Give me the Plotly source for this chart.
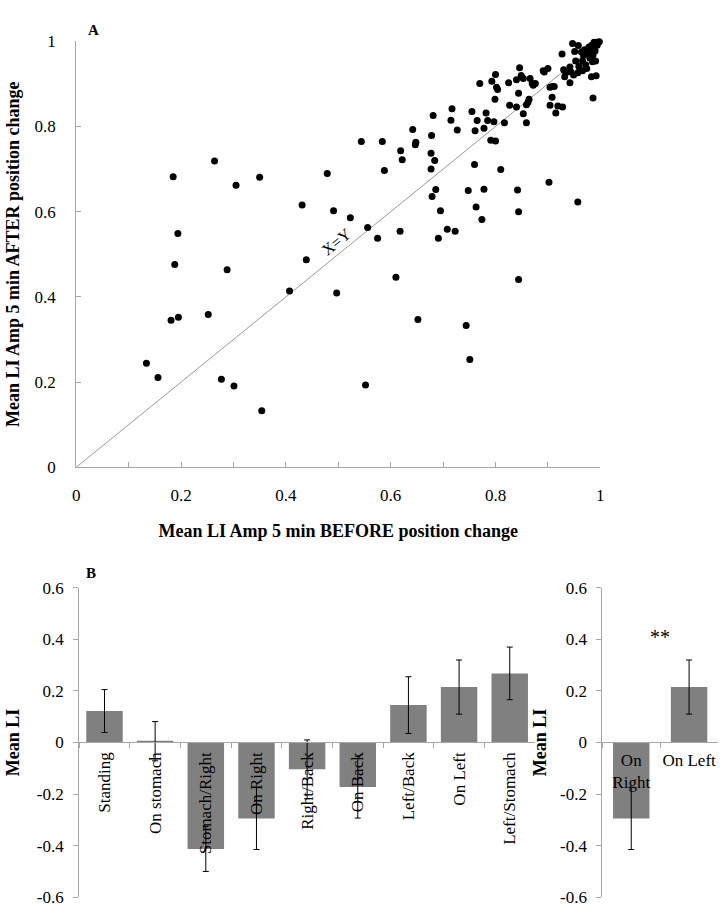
import plotly.graph_objects as go

# ---------------- Panel A data ----------------
before = [
    0.134, 0.156, 0.181, 0.195, 0.252, 0.277, 0.301, 0.354,
    0.185, 0.264, 0.305, 0.350, 0.194, 0.188, 0.288,
    0.479, 0.431, 0.491, 0.523, 0.439, 0.407, 0.497, 0.544,
    0.556, 0.575, 0.618, 0.695, 0.763, 0.844, 0.774, 0.708, 0.723, 0.691,
    0.610, 0.844, 0.652, 0.744, 0.751, 0.552,
    0.584, 0.588, 0.619, 0.622, 0.642, 0.648, 0.647, 0.678, 0.681, 0.677,
    0.684, 0.677, 0.686, 0.679,
    0.715, 0.717, 0.727, 0.748, 0.760, 0.755, 0.761, 0.765, 0.778, 0.770,
    0.778, 0.782, 0.785, 0.791, 0.797, 0.800, 0.793, 0.800, 0.802, 0.804,
    0.799, 0.810, 0.817, 0.825, 0.827, 0.840, 0.840, 0.844, 0.846, 0.849,
    0.853, 0.853, 0.859, 0.859, 0.862, 0.864, 0.866, 0.870, 0.872, 0.876,
    0.842,
    0.891, 0.893, 0.900, 0.902, 0.904, 0.904, 0.908, 0.912, 0.908, 0.915,
    0.919, 0.928, 0.927, 0.930, 0.932, 0.934, 0.942, 0.942, 0.944, 0.947,
    0.949, 0.951, 0.953, 0.957, 0.957, 0.958, 0.959, 0.964, 0.966, 0.966,
    0.968, 0.970, 0.972, 0.974, 0.975, 0.978, 0.980, 0.981, 0.983, 0.983,
    0.985, 0.986, 0.986, 0.987, 0.988, 0.990, 0.991, 0.992, 0.994, 0.998,
    0.993,
]
after = [
    0.244, 0.211, 0.345, 0.352, 0.359, 0.207, 0.191, 0.133,
    0.682, 0.719, 0.662, 0.681, 0.549, 0.476, 0.464,
    0.690, 0.616, 0.602, 0.586, 0.487, 0.414, 0.409, 0.765,
    0.563, 0.538, 0.554, 0.602, 0.611, 0.600, 0.582, 0.559, 0.554, 0.538,
    0.446, 0.441, 0.347, 0.333, 0.253, 0.193,
    0.765, 0.697, 0.743, 0.722, 0.793, 0.763, 0.757, 0.779, 0.826, 0.737,
    0.720, 0.700, 0.652, 0.636,
    0.815, 0.842, 0.792, 0.650, 0.711, 0.835, 0.790, 0.814, 0.653, 0.901,
    0.796, 0.832, 0.814, 0.768, 0.811, 0.766, 0.906, 0.922, 0.892, 0.887,
    0.864, 0.699, 0.809, 0.903, 0.850, 0.846, 0.910, 0.878, 0.938, 0.920,
    0.913, 0.830, 0.809, 0.851, 0.857, 0.864, 0.913, 0.901, 0.897, 0.901,
    0.651,
    0.931, 0.928, 0.936, 0.669, 0.850, 0.892, 0.894, 0.894, 0.869, 0.832,
    0.848, 0.846, 0.970, 0.933, 0.917, 0.926, 0.940, 0.903, 0.928, 0.995,
    0.921, 0.976, 0.954, 0.926, 0.623, 0.990, 0.941, 0.975, 0.954, 0.931,
    0.967, 0.980, 0.945, 0.936, 0.972, 0.986, 0.961, 0.977, 0.917, 0.990,
    0.952, 0.968, 0.867, 0.984, 0.998, 0.977, 0.954, 0.919, 0.991, 0.999,
    0.998,
]
identity_line = [0, 1]
a_xtick_vals = [0, 0.1, 0.2, 0.3, 0.4, 0.5, 0.6, 0.7, 0.8, 0.9, 1.0]
a_xtick_text = ["0", "", "0.2", "", "0.4", "", "0.6", "", "0.8", "", "1"]
a_ytick_vals = [0, 0.2, 0.4, 0.6, 0.8, 1.0]
a_ytick_text = ["0", "0.2", "0.4", "0.6", "0.8", "1"]

# ---------------- Panel B data ----------------
positions = ["Standing", "On stomach", "Stomach/Right", "On Right", "Right/Back",
             "On Back", "Left/Back", "On Left", "Left/Stomach"]
mean_li = [0.122, 0.005, -0.413, -0.295, -0.104, -0.173, 0.145, 0.215, 0.268]
mean_li_err = [0.083, 0.076, 0.087, 0.120, 0.114, 0.120, 0.110, 0.105, 0.102]

side_positions = ["On<br>Right", "On Left"]
side_mean_li = [-0.295, 0.215]
side_err = [0.120, 0.105]

b_tick_vals = [-0.6, -0.4, -0.2, 0, 0.2, 0.4, 0.6]
b_tick_text = ["-0.6", "-0.4", "-0.2", "0", "0.2", "0.4", "0.6"]

# ---------------- geometry helpers (pixels -> paper) ----------------
W, H = 724, 918


def px(x):
    return x / W


def py(y):
    return (H - y) / H


AXIS_GREY = "#a6a6a6"
FONT = "Liberation Serif"

fig = go.Figure()

fig.add_trace(go.Scatter(x=identity_line, y=identity_line, mode="lines",
                         line=dict(color="#9a9a9a", width=1),
                         xaxis="x", yaxis="y", hoverinfo="skip", showlegend=False))
fig.add_trace(go.Scatter(x=before, y=after, mode="markers",
                         marker=dict(color="black", size=7),
                         cliponaxis=False, xaxis="x", yaxis="y", showlegend=False))

fig.add_trace(go.Bar(x=positions, y=mean_li, width=0.72,
                     marker=dict(color="#808080", line=dict(width=0)),
                     error_y=dict(type="data", array=mean_li_err, color="black",
                                  thickness=1, width=3),
                     xaxis="x2", yaxis="y2", showlegend=False))
fig.add_trace(go.Bar(x=side_positions, y=side_mean_li, width=0.63,
                     marker=dict(color="#808080", line=dict(width=0)),
                     error_y=dict(type="data", array=side_err, color="black",
                                  thickness=1, width=3),
                     xaxis="x3", yaxis="y3", showlegend=False))

b_domain = [py(907), py(591)]
zero_pos = (b_domain[0] + b_domain[1]) / 2

fig.update_layout(
    width=W, height=H,
    margin=dict(l=0, r=0, t=0, b=0),
    paper_bgcolor="white", plot_bgcolor="white",
    font=dict(family=FONT, size=17, color="black"),
    showlegend=False,
    xaxis=dict(domain=[px(73), px(603)], range=[0, 1], anchor="y",
               tickmode="array", tickvals=a_xtick_vals, ticktext=a_xtick_text,
               ticks="inside", ticklen=5, tickcolor=AXIS_GREY,
               showline=True, linecolor=AXIS_GREY, linewidth=1,
               showgrid=False, zeroline=False, ticklabelstandoff=12,
               title=dict(text="<b>Mean LI Amp 5 min BEFORE position change</b>",
                          font=dict(size=18), standoff=20)),
    yaxis=dict(domain=[py(468), py(33)], range=[0, 1], anchor="x",
               tickmode="array", tickvals=a_ytick_vals, ticktext=a_ytick_text,
               ticks="inside", ticklen=5, tickcolor=AXIS_GREY,
               showline=True, linecolor=AXIS_GREY, linewidth=1,
               showgrid=False, zeroline=False, ticklabelstandoff=16,
               title=dict(text="<b>Mean LI Amp 5 min AFTER position change</b>",
                          font=dict(size=18), standoff=10)),
    xaxis2=dict(domain=[px(76), px(537)], anchor="free", position=zero_pos,
                type="category", range=[-0.5, 8.5],
                tickangle=-90, ticks="outside", tickson="boundaries",
                ticklen=5, tickcolor=AXIS_GREY,
                showline=True, linecolor=AXIS_GREY, linewidth=1,
                showgrid=False, zeroline=False, ticklabelstandoff=2),
    yaxis2=dict(domain=b_domain, range=[-0.6, 0.6], anchor="x2",
                tickmode="array", tickvals=b_tick_vals, ticktext=b_tick_text,
                ticks="outside", ticklen=5, tickcolor=AXIS_GREY,
                showline=True, linecolor=AXIS_GREY, linewidth=1,
                showgrid=False, zeroline=False, ticklabelstandoff=6,
                title=dict(text="<b>Mean LI</b>", font=dict(size=18), standoff=12)),
    xaxis3=dict(domain=[px(605), px(722)], anchor="free", position=zero_pos,
                type="category", range=[-0.5, 1.5],
                tickangle=0, ticks="outside", tickson="boundaries",
                ticklen=5, tickcolor=AXIS_GREY,
                showline=True, linecolor=AXIS_GREY, linewidth=1,
                showgrid=False, zeroline=False, ticklabelstandoff=2),
    yaxis3=dict(domain=b_domain, range=[-0.6, 0.6], anchor="x3",
                tickmode="array", tickvals=b_tick_vals, ticktext=b_tick_text,
                ticks="outside", ticklen=5, tickcolor=AXIS_GREY,
                showline=True, linecolor=AXIS_GREY, linewidth=1,
                showgrid=False, zeroline=False, ticklabelstandoff=6,
                title=dict(text="<b>Mean LI</b>", font=dict(size=18), standoff=8)),
    annotations=[
        dict(text="<b>A</b>", xref="paper", yref="paper", x=px(83), y=py(11),
             showarrow=False, font=dict(size=15)),
        dict(text="<b>B</b>", xref="paper", yref="paper", x=px(81), y=py(576),
             showarrow=False, font=dict(size=15)),
        dict(text="X=Y", xref="x", yref="y", x=0.497, y=0.53, textangle=-39,
             showarrow=False, font=dict(size=16)),
        dict(text="**", xref="x3", yref="y3", x=0.5, y=0.41,
             showarrow=False, font=dict(size=20)),
    ],
)

fig.write_html(
    "out.html",
    config={"displayModeBar": False},
    post_script=(
        "document.documentElement.style.margin='0';"
        "document.documentElement.style.overflow='hidden';"
        "document.body.style.margin='0';"
        "document.body.style.padding='0';"
        "document.body.style.overflow='hidden';"
    ),
)
